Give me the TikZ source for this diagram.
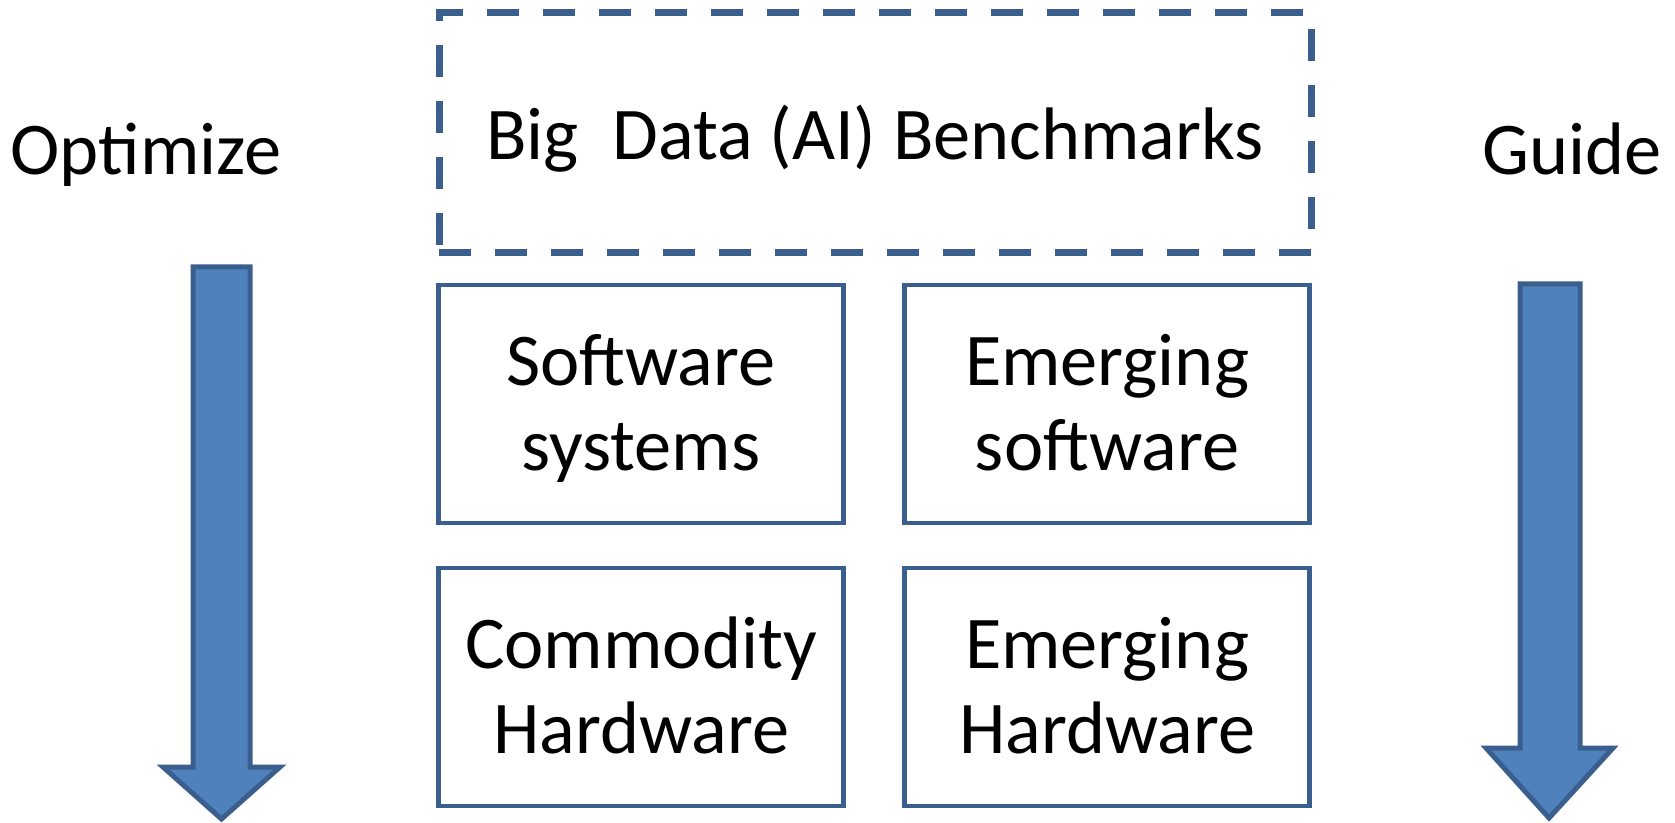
\documentclass[tikz,border=0pt]{standalone}
\usepackage{fontspec}
\setmainfont{Carlito}
\definecolor{edgeblue}{HTML}{3A5F8E}
\definecolor{fillblue}{HTML}{4F81BD}

\begin{document}
\begin{tikzpicture}[x=0.5pt,y=-0.5pt,
    every node/.style={font=\fontsize{37.2}{42.5}\selectfont},
    layerbox/.style={draw=edgeblue,line width=2.25pt,minimum width=202.5pt,minimum height=119pt,
        align=center,inner sep=0pt,text height=70pt,text depth=4pt},
    benchbox/.style={draw=edgeblue,line width=3.5pt,dash pattern=on 16pt off 12pt,minimum width=436pt,
        minimum height=120pt,inner sep=0pt,text height=30pt,text depth=3pt},
    blockarrow/.style={fill=fillblue,draw=edgeblue,line width=2.5pt,line join=miter}]
    \useasboundingbox (0,0) rectangle (1675,823);
    \node[benchbox] (bench) at (875,133) {Big~~Data (AI) Benchmarks};
    \node[layerbox] (sw) at (641,404) {Software\\systems};
    \node[layerbox] (esw) at (1107,404) {Emerging\\software};
    \node[layerbox] (hw) at (641,687) {Commodity\\Hardware};
    \node[layerbox] (ehw) at (1107,687) {Emerging\\Hardware};
    \node[anchor=base] (opt) at (146,175) {Optimize};
    \node[anchor=base] (guide) at (1572,175) {Guide};
    \draw[blockarrow] (193,267) -- (250,267) -- (250,767) -- (280,767) -- (221.5,819)
        -- (163,767) -- (193,767) -- cycle;
    \draw[blockarrow] (1520,284) -- (1580,284) -- (1580,748) -- (1613,748) -- (1549,818)
        -- (1486,748) -- (1520,748) -- cycle;
\end{tikzpicture}
\end{document}
